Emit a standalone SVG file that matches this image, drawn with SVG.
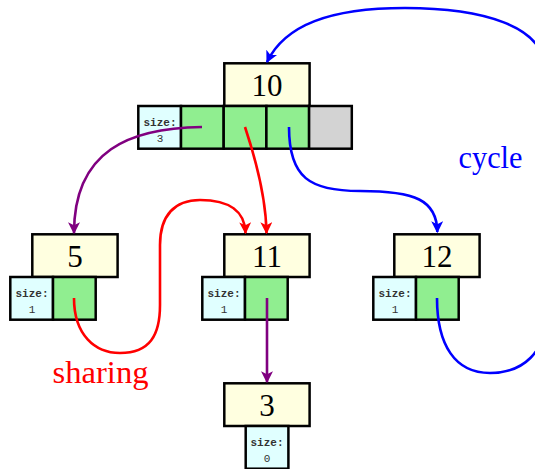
<svg xmlns="http://www.w3.org/2000/svg" width="535" height="469" viewBox="0 0 535 469">
<style>
.box{stroke:#000;stroke-width:2.5}
.val{fill:#ffffe0}
.sz{fill:#e0ffff}
.ptr{fill:#90ee90}
.nil{fill:#d3d3d3}
.num{font-family:"Liberation Serif",serif;font-size:31px;fill:#000;text-anchor:middle}
.st{font-family:"Liberation Mono",monospace;font-size:11px;fill:#333;text-anchor:middle}
.stb{font-weight:bold}
.lbl{font-family:"Liberation Serif",serif;font-size:31px;text-anchor:middle}
.c{fill:none;stroke-width:2.6}
</style>
<defs>
<marker id="ar" viewBox="0 0 10 10" refX="9" refY="5" markerWidth="4.6" markerHeight="4.6" orient="auto" markerUnits="strokeWidth"><path d="M0,0 L10,5 L0,10 L2.5,5 Z" fill="red"/></marker>
<marker id="ab" viewBox="0 0 10 10" refX="9" refY="5" markerWidth="4.6" markerHeight="4.6" orient="auto" markerUnits="strokeWidth"><path d="M0,0 L10,5 L0,10 L2.5,5 Z" fill="blue"/></marker>
<marker id="ap" viewBox="0 0 10 10" refX="9" refY="5" markerWidth="4.6" markerHeight="4.6" orient="auto" markerUnits="strokeWidth"><path d="M0,0 L10,5 L0,10 L2.5,5 Z" fill="purple"/></marker>
</defs>

<g id="node10">
<rect class="box val" x="224.3" y="63.3" width="85.3" height="42.7"/>
<text class="num" x="267" y="96">10</text>
<rect class="box sz" x="138.3" y="106" width="42.7" height="42.7"/>
<text class="st stb" x="160" y="126">size:</text>
<text class="st" x="160" y="142">3</text>
<rect class="box ptr" x="181" y="106" width="42.7" height="42.7"/>
<rect class="box ptr" x="223.7" y="106" width="42.7" height="42.7"/>
<rect class="box ptr" x="266.4" y="106" width="42.7" height="42.7"/>
<rect class="box nil" x="309.1" y="106" width="42.7" height="42.7"/>
</g>

<g id="node5">
<rect class="box val" x="32.3" y="234.3" width="85.3" height="42.7"/>
<text class="num" x="75" y="267">5</text>
<rect class="box sz" x="10.3" y="277" width="42.7" height="42.7"/>
<text class="st stb" x="32" y="297">size:</text>
<text class="st" x="32" y="313">1</text>
<rect class="box ptr" x="53" y="277" width="42.7" height="42.7"/>
</g>

<g id="node11">
<rect class="box val" x="224.3" y="234.3" width="85.3" height="42.7"/>
<text class="num" x="267" y="267">11</text>
<rect class="box sz" x="202.3" y="277" width="42.7" height="42.7"/>
<text class="st stb" x="224" y="297">size:</text>
<text class="st" x="224" y="313">1</text>
<rect class="box ptr" x="245" y="277" width="42.7" height="42.7"/>
</g>

<g id="node12">
<rect class="box val" x="394.3" y="234.3" width="85.3" height="42.7"/>
<text class="num" x="437" y="267">12</text>
<rect class="box sz" x="373.3" y="277" width="42.7" height="42.7"/>
<text class="st stb" x="395" y="297">size:</text>
<text class="st" x="395" y="313">1</text>
<rect class="box ptr" x="416" y="277" width="42.7" height="42.7"/>
</g>

<g id="node3">
<rect class="box val" x="224.3" y="383.3" width="85.3" height="42.7"/>
<text class="num" x="267" y="416">3</text>
<rect class="box sz" x="245.7" y="426" width="42.7" height="42.7"/>
<text class="st stb" x="267" y="446">size:</text>
<text class="st" x="267" y="462">0</text>
</g>

<g id="connectors">
<path class="c" stroke="purple" marker-end="url(#ap)" d="M202,127 C130,128 74,150 74,233"/>
<path class="c" stroke="red" marker-end="url(#ar)" d="M245,127 C256,160 266,200 266.5,233"/>
<path class="c" stroke="red" marker-end="url(#ar)" d="M74,298 C74,335 95,353 120,353 C150,353 160,335 160,305 L160,245 C160,215 175,200 200,200 C230,200 245,212 245.5,233"/>
<path class="c" stroke="blue" marker-end="url(#ab)" d="M289,127 C289,178 310,191 360,191 C415,191 437,200 437.3,232"/>
<path class="c" stroke="blue" marker-end="url(#ab)" d="M437,298 C437,345 455,373 490,373 C525,373 545,350 545,320 L545,70 C545,25 480,8 405,8 C330,8 285,25 267,62"/>
<path class="c" stroke="purple" marker-end="url(#ap)" d="M267,298 L267,382"/>
</g>

<text class="lbl" x="100.5" y="383" fill="red" textLength="96" lengthAdjust="spacingAndGlyphs">sharing</text>
<text class="lbl" x="490.5" y="168" fill="blue" textLength="64" lengthAdjust="spacingAndGlyphs">cycle</text>
</svg>
